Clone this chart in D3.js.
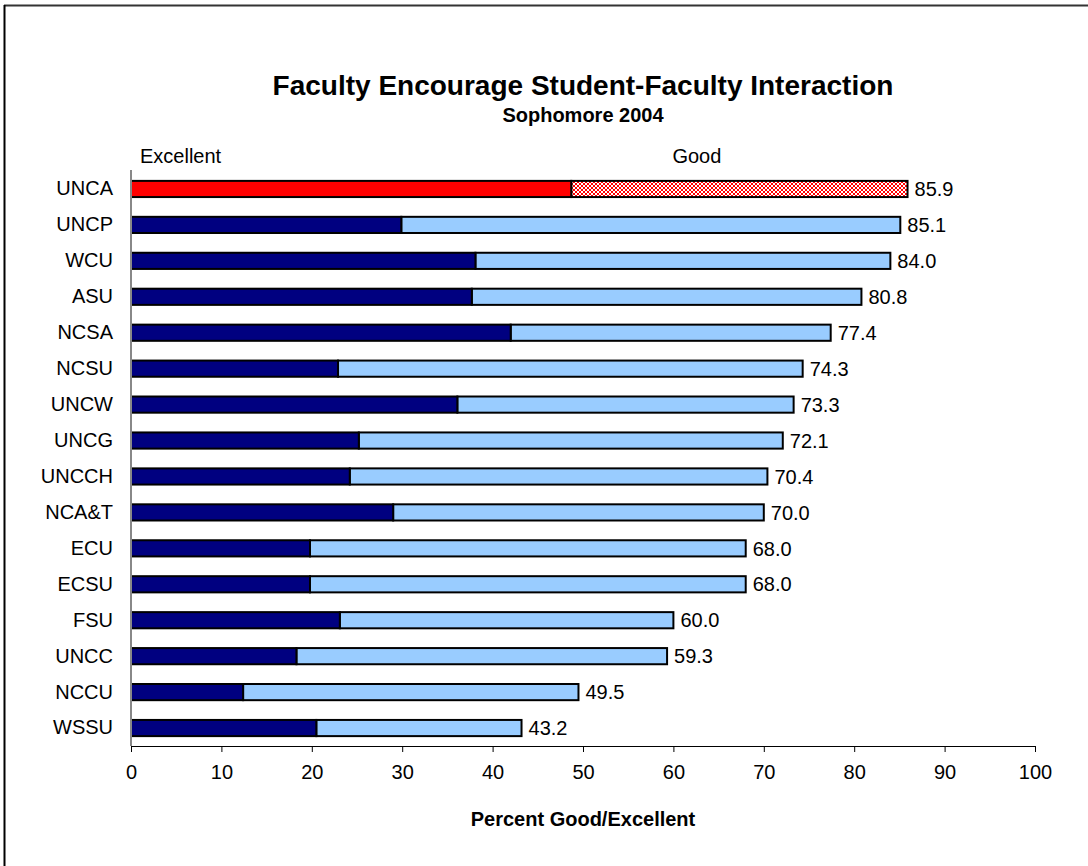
<!DOCTYPE html>
<html>
<head>
<meta charset="utf-8">
<script src="https://cdn.jsdelivr.net/npm/d3@7"></script>
<style>
  body { margin: 0; background: #fff; }
  text { font-family: "Liberation Sans", Arial, sans-serif; fill: #000; }
</style>
</head>
<body>
<div id="chart"></div>
<script>
// data
const schools = ['UNCA', 'UNCP', 'WCU', 'ASU', 'NCSA', 'NCSU', 'UNCW', 'UNCG',
    'UNCCH', 'NCA&T', 'ECU', 'ECSU', 'FSU', 'UNCC', 'NCCU', 'WSSU'];
const excellent = [48.7, 29.9, 38.1, 37.7, 42.0, 22.9, 36.1, 25.2,
    24.2, 29.0, 19.8, 19.8, 23.1, 18.3, 12.4, 20.5];
const totals = [85.9, 85.1, 84.0, 80.8, 77.4, 74.3, 73.3, 72.1,
    70.4, 70.0, 68.0, 68.0, 60.0, 59.3, 49.5, 43.2];
const xTicks = [0, 10, 20, 30, 40, 50, 60, 70, 80, 90, 100];
const highlight = 'UNCA';

const W = 1088, H = 866;
const margin = { top: 171, right: 53, bottom: 120, left: 131 };
const width = W - margin.left - margin.right;
const height = H - margin.top - margin.bottom;
const fs = 20;

const svg = d3.select('#chart')
    .append('svg')
    .attr('width', W)
    .attr('height', H);

// checker pattern for the highlighted "good" segment
const defs = svg.append('defs');
const pat = defs.append('pattern')
    .attr('id', 'checker')
    .attr('width', 4).attr('height', 4)
    .attr('patternUnits', 'userSpaceOnUse');
pat.append('rect').attr('width', 4).attr('height', 4).attr('fill', '#fff');
pat.append('rect').attr('width', 2).attr('height', 2).attr('fill', '#ff0000');
pat.append('rect').attr('x', 2).attr('y', 2).attr('width', 2).attr('height', 2).attr('fill', '#ff0000');

// outer frame (only top and left edges visible)
svg.append('line').attr('x1', 4).attr('x2', W).attr('y1', 5.5).attr('y2', 5.5)
    .attr('stroke', '#333').attr('stroke-width', 2);
svg.append('line').attr('x1', 4.5).attr('x2', 4.5).attr('y1', 5).attr('y2', H)
    .attr('stroke', '#000').attr('stroke-width', 2);

const g = svg.append('g')
    .attr('transform', `translate(${margin.left},${margin.top})`);

const x = d3.scaleLinear().domain([0, 100]).range([0, width]);
const y = d3.scaleBand().domain(schools).range([0, height]).paddingInner(0.55).paddingOuter(0.275);

const rows = schools.map((s, i) => ({ school: s, exc: excellent[i], total: totals[i] }));

// good segment (from excellent to total)
g.selectAll('.good')
    .data(rows)
    .join('rect')
    .attr('x', d => x(d.exc))
    .attr('y', d => y(d.school))
    .attr('width', d => x(d.total) - x(d.exc))
    .attr('height', y.bandwidth())
    .attr('fill', d => d.school === highlight ? 'url(#checker)' : '#99ccff')
    .attr('stroke', '#000')
    .attr('stroke-width', 2);

// excellent segment
g.selectAll('.exc')
    .data(rows)
    .join('rect')
    .attr('x', x(0))
    .attr('y', d => y(d.school))
    .attr('width', d => x(d.exc))
    .attr('height', y.bandwidth())
    .attr('fill', d => d.school === highlight ? '#ff0000' : '#000080')
    .attr('stroke', '#000')
    .attr('stroke-width', 2);

// total labels
g.selectAll('.val')
    .data(rows)
    .join('text')
    .attr('x', d => x(d.total) + 7)
    .attr('y', d => y(d.school) + y.bandwidth() / 2)
    .attr('dy', '0.36em')
    .attr('font-size', fs)
    .text(d => d.total.toFixed(1));

// y axis
const yAxis = g.append('g')
    .call(d3.axisLeft(y).tickSize(0).tickPadding(18));
yAxis.select('.domain').attr('stroke', '#888').attr('stroke-width', 2)
    .attr('d', `M0,-1V${height}`);
yAxis.selectAll('text').attr('font-size', fs)
    .style('font-family', '"Liberation Sans", Arial, sans-serif');

// x axis
const xAxis = g.append('g')
    .attr('transform', `translate(0,${height})`)
    .call(d3.axisBottom(x).tickValues(xTicks).tickSize(6).tickSizeOuter(0).tickPadding(13));
xAxis.select('.domain').attr('stroke', '#000');
xAxis.selectAll('text').attr('font-size', fs)
    .style('font-family', '"Liberation Sans", Arial, sans-serif');

// axis title
g.append('text')
    .attr('x', width / 2)
    .attr('y', height + 80)
    .attr('text-anchor', 'middle')
    .attr('font-size', fs)
    .attr('font-weight', 'bold')
    .text('Percent Good/Excellent');

// legend labels above bars
g.append('text')
    .attr('x', 9).attr('y', -8)
    .attr('font-size', fs)
    .text('Excellent');
g.append('text')
    .attr('x', x(62.6)).attr('y', -8)
    .attr('text-anchor', 'middle')
    .attr('font-size', fs)
    .text('Good');

// titles
svg.append('text')
    .attr('x', margin.left + width / 2).attr('y', 95)
    .attr('text-anchor', 'middle')
    .attr('font-size', 28)
    .attr('font-weight', 'bold')
    .text('Faculty Encourage Student-Faculty Interaction');
svg.append('text')
    .attr('x', margin.left + width / 2).attr('y', 122)
    .attr('text-anchor', 'middle')
    .attr('font-size', fs)
    .attr('font-weight', 'bold')
    .text('Sophomore 2004');
</script>
</body>
</html>
